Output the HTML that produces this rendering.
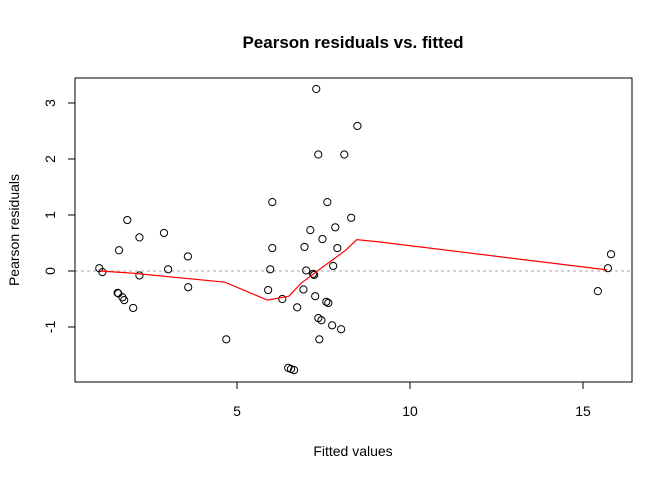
<!DOCTYPE html>
<html><head><meta charset="utf-8"><style>body{margin:0;background:#fff}svg{display:block;font-family:"Liberation Sans",Arial,sans-serif}</style></head>
<body>
<svg id="c" width="672" height="480"></svg>
<script>
const xVals=[1.02,1.11,1.83,1.59,1.55,1.57,1.69,1.74,2.00,2.18,2.18,2.89,3.01,3.58,3.59,4.69,6.02,6.02,5.96,5.90,7.29,8.48,7.35,8.10,7.61,8.30,7.84,7.12,7.47,6.95,7.90,7.00,7.20,7.23,7.78,6.31,6.92,7.26,6.74,7.58,7.64,7.35,7.44,7.75,8.01,7.38,6.48,6.56,6.65,15.72,15.81,15.43];
const yVals=[0.05,-0.02,0.91,0.37,-0.39,-0.40,-0.47,-0.52,-0.66,0.60,-0.08,0.68,0.03,0.26,-0.29,-1.22,1.23,0.41,0.03,-0.34,3.25,2.59,2.08,2.08,1.23,0.95,0.78,0.73,0.57,0.43,0.41,0.01,-0.05,-0.07,0.09,-0.50,-0.33,-0.45,-0.65,-0.55,-0.57,-0.84,-0.88,-0.97,-1.04,-1.22,-1.73,-1.75,-1.77,0.05,0.30,-0.36];
const smoothX=[1.04,2.0,4.65,5.88,6.5,6.85,7.5,8.16,8.46,9.1,15.7];
const smoothY=[0,-0.04,-0.20,-0.52,-0.45,-0.22,0.08,0.38,0.56,0.52,0.02];
const xTicks=[5,10,15];
const yTicks=[-1,0,1,2,3];
const NS="http://www.w3.org/2000/svg";
const svg=document.getElementById('c');
const sx=v=>237+(v-5)*34.6;
const sy=v=>271-v*56;
function mk(t,a,p){const e=document.createElementNS(NS,t);for(const k in a)e.setAttribute(k,a[k]);(p||svg).appendChild(e);return e;}
let e;
e=mk('rect',{x:75,y:78,width:557,height:304,fill:'none',stroke:'#000'});


e=mk('line',{x1:75,x2:632,y1:sy(0),y2:sy(0),stroke:'#aaa','stroke-dasharray':'3,3'});


e=mk('line',{x1:sx(5),x2:sx(15),y1:382,y2:382,stroke:'#000'});


xTicks.forEach(t=>{
 e=mk('line',{x1:sx(t),x2:sx(t),y1:382,y2:389,stroke:'#000'});
 
 
 e=mk('text',{x:sx(t),y:416,'text-anchor':'middle','font-size':14});e.textContent=t;
 
 
});
e=mk('line',{x1:75,x2:75,y1:sy(-1),y2:sy(3),stroke:'#000'});


yTicks.forEach(t=>{
 e=mk('line',{x1:68,x2:75,y1:sy(t),y2:sy(t),stroke:'#000'});
 
 
 e=mk('text',{x:0,y:0,'text-anchor':'middle','font-size':14,transform:`translate(55,${sy(t)}) rotate(-90)`});e.textContent=t;
 
 
});
xVals.forEach((x,i)=>{
 e=mk('circle',{cx:sx(x),cy:sy(yVals[i]),r:3.6,fill:'none',stroke:'#000','stroke-width':1});
 
 
});
e=mk('polyline',{points:smoothX.map((x,i)=>sx(x)+','+sy(smoothY[i])).join(' '),fill:'none',stroke:'#f00','stroke-width':1.2});


e=mk('text',{x:353,y:48,'text-anchor':'middle','font-size':17,'font-weight':'bold'});e.textContent='Pearson residuals vs. fitted';


e=mk('text',{x:353,y:456,'text-anchor':'middle','font-size':14});e.textContent='Fitted values';


e=mk('text',{x:0,y:0,'text-anchor':'middle','font-size':14,transform:'translate(19,230) rotate(-90)'});e.textContent='Pearson residuals';


</script>
</body></html>
